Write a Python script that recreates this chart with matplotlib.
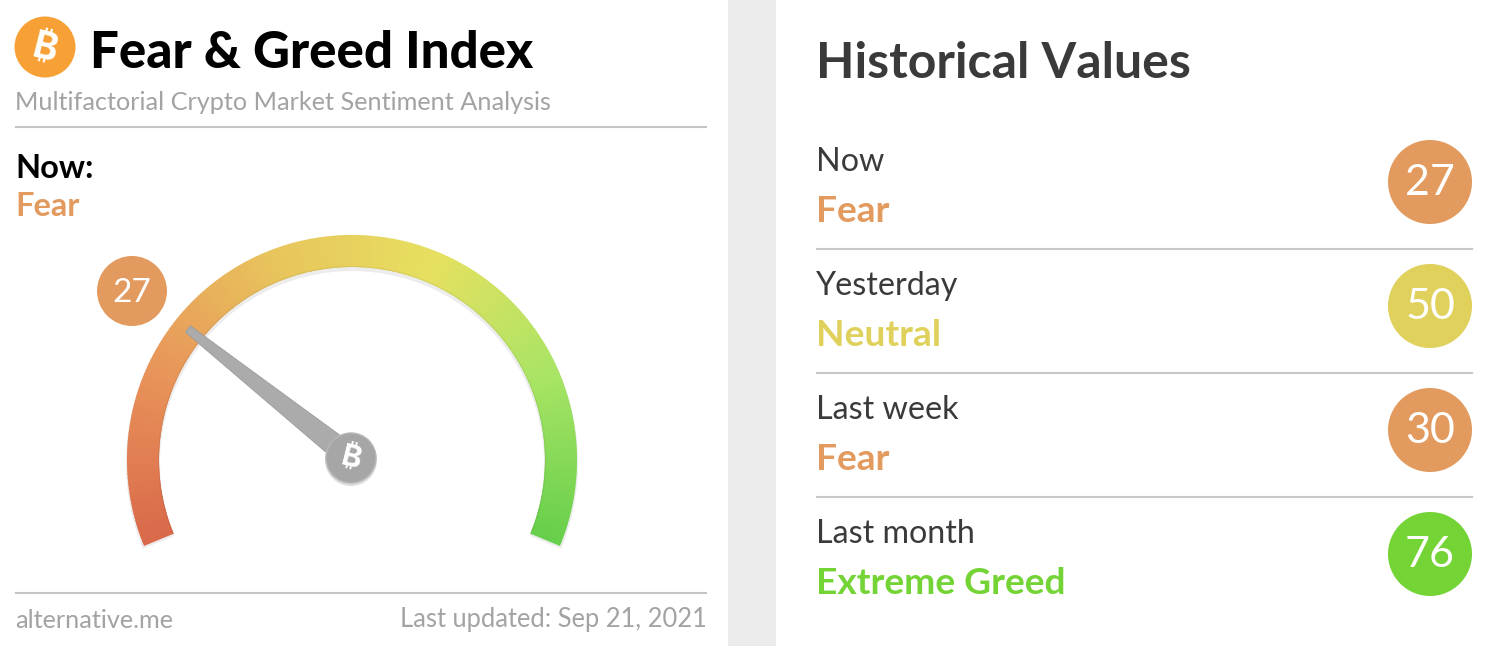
import numpy as np
import matplotlib
matplotlib.use("Agg")
import matplotlib.pyplot as plt
from matplotlib.patches import Circle, Wedge, Polygon, Rectangle, FancyBboxPatch
from matplotlib.colors import LinearSegmentedColormap

# values
periods = ["Now", "Yesterday", "Last week", "Last month"]
ratings = ["Fear", "Neutral", "Fear", "Extreme Greed"]
values = [27, 50, 30, 76]
rating_colors = ["#e39a5e", "#dfd15b", "#e39a5e", "#74d435"]
row_y = [160, 284, 408, 532]

now_value = 27
title = "Fear & Greed Index"
subtitle = "Multifactorial Crypto Market Sentiment Analysis"
site = "alternative.me"
updated = "Last updated: Sep 21, 2021"

gauge_stops = ["#d9694a", "#e8935a", "#e8c45c", "#e6e060", "#a8e465", "#66cf4a"]

GREY_TXT = "#a3a3a3"
DARK = "#3a3a3a"

# canvas in reference pixels
fig = plt.figure(figsize=(15.06, 6.46), dpi=100)
ax = fig.add_axes([0, 0, 1, 1])
ax.set_xlim(0, 1506)
ax.set_ylim(646, 0)
ax.axis("off")


def bitcoin(x, y, size, color, z):
    ax.text(x, y, "\u20bf", fontsize=size, color=color, ha="center", va="center",
            family=["Inter", "Noto Sans", "Roboto", "Open Sans", "Lato", "Liberation Sans", "DejaVu Sans"],
            fontweight="bold", rotation=-14, zorder=z)


# page background and the two cards
ax.add_patch(Rectangle((0, 0), 1506, 646, fc="#ebebeb", ec="none", zorder=0))
ax.add_patch(FancyBboxPatch((-40, -40), 768, 760, boxstyle="round,pad=0,rounding_size=10",
                            fc="white", ec="none", zorder=1))
ax.add_patch(FancyBboxPatch((776, -40), 800, 760, boxstyle="round,pad=0,rounding_size=10",
                            fc="white", ec="none", zorder=1))

# left card header
ax.add_patch(Circle((45, 47), 30.5, fc="#f7a035", ec="none", zorder=2))
bitcoin(45, 49, 27, "white", 3)
ax.text(90, 54, title, fontsize=36.7, family="Lato", fontweight="black", color="black",
        va="center", ha="left", zorder=3)
ax.text(15, 103, subtitle, fontsize=18.15, family="Lato", color=GREY_TXT, va="center", ha="left", zorder=3)
ax.plot([16, 706], [127, 127], color="#c4c4c4", lw=1.5, zorder=2)
ax.text(15, 169, "Now:", fontsize=23.5, family="Lato", fontweight="bold", color="black",
        va="center", ha="left", zorder=3)
ax.text(15, 207, ratings[0], fontsize=23.5, family="Lato", fontweight="bold", color=rating_colors[0],
        va="center", ha="left", zorder=3)

# gauge
cx, cy = 352, 460
r_out, r_in = 225, 193
a_start, a_end = 202.3, -22.3
cmap = LinearSegmentedColormap.from_list("gauge", gauge_stops)

# soft shadow under the arc
ax.add_patch(Wedge((cx, cy + 3), r_out + 1, -a_start, -a_end, width=r_out - r_in + 2,
                   fc="#ececec", ec="none", zorder=2))

steps = 240
edges = np.linspace(0, 1, steps + 1)
for i in range(steps):
    a0 = a_start + (a_end - a_start) * edges[i]
    a1 = a_start + (a_end - a_start) * edges[i + 1]
    c = np.array(cmap(edges[i])[:3])
    ax.add_patch(Wedge((cx, cy), r_out, -a0 - 0.15, -a1 + 0.15, width=r_out - r_in,
                       fc=c, ec="none", zorder=3))
    # slightly darker rim on the inside of the arc
    ax.add_patch(Wedge((cx, cy), r_in + 1, -a0 - 0.15, -a1 + 0.15, width=1,
                       fc=c * 0.94, ec="none", zorder=3))

# needle follows the value on the same scale as the arc
ang = np.radians(a_start + (a_end - a_start) * now_value / 100)
u = np.array([np.cos(ang), -np.sin(ang)])
p = np.array([-u[1], u[0]])
hub = np.array([351, 458])
tip = hub + 208 * u
base = hub + 10 * u
ax.add_patch(Polygon([tip + 4 * p, tip - 4 * p, base - 11.5 * p, base + 11.5 * p],
                     closed=True, fc="#ababab", ec="#9c9c9c", lw=0.6, zorder=4))
ax.add_patch(Circle(tuple(hub + [0, 2]), 26, fc="#dcdcdc", ec="none", zorder=4))
ax.add_patch(Circle(tuple(hub), 25, fc="#a6a6a6", ec="#b8b8b8", lw=1, zorder=5))
bitcoin(hub[0], hub[1] + 1, 22, "white", 6)

# value bubble beside the gauge
ax.add_patch(Circle((132, 291), 35, fc=rating_colors[0], ec="none", zorder=5))
ax.text(132, 293, str(now_value), fontsize=24, family="Lato", color="white", ha="center", va="center", zorder=6)

# left card footer
ax.plot([16, 706], [593, 593], color="#c4c4c4", lw=1.5, zorder=2)
ax.text(15, 620, site, fontsize=18.2, family="Lato", color=GREY_TXT, va="center", ha="left", zorder=3)
ax.text(707, 620, updated, fontsize=18.4, family="Lato", color=GREY_TXT, va="center", ha="right", zorder=3)

# right card
ax.text(816, 63, "Historical Values", fontsize=36, family="Lato", fontweight="bold", color=DARK,
        va="center", ha="left", zorder=3)
for i, period in enumerate(periods):
    y = row_y[i]
    ax.text(816, y + 2, period, fontsize=23.2, family="Lato", color=DARK, va="center", ha="left", zorder=3)
    ax.text(816, y + 52, ratings[i], fontsize=26.7, family="Lato", fontweight="bold", color=rating_colors[i],
            va="center", ha="left", zorder=3)
    ax.add_patch(Circle((1430, y + 22), 42, fc=rating_colors[i], ec="none", zorder=3))
    ax.text(1430, y + 23, str(values[i]), fontsize=31, family="Lato", color="white",
            ha="center", va="center", zorder=4)
    if i < len(periods) - 1:
        ax.plot([817, 1472], [y + 89, y + 89], color="#c8c8c8", lw=1.5, zorder=2)

fig.savefig("out.png", dpi=100)
